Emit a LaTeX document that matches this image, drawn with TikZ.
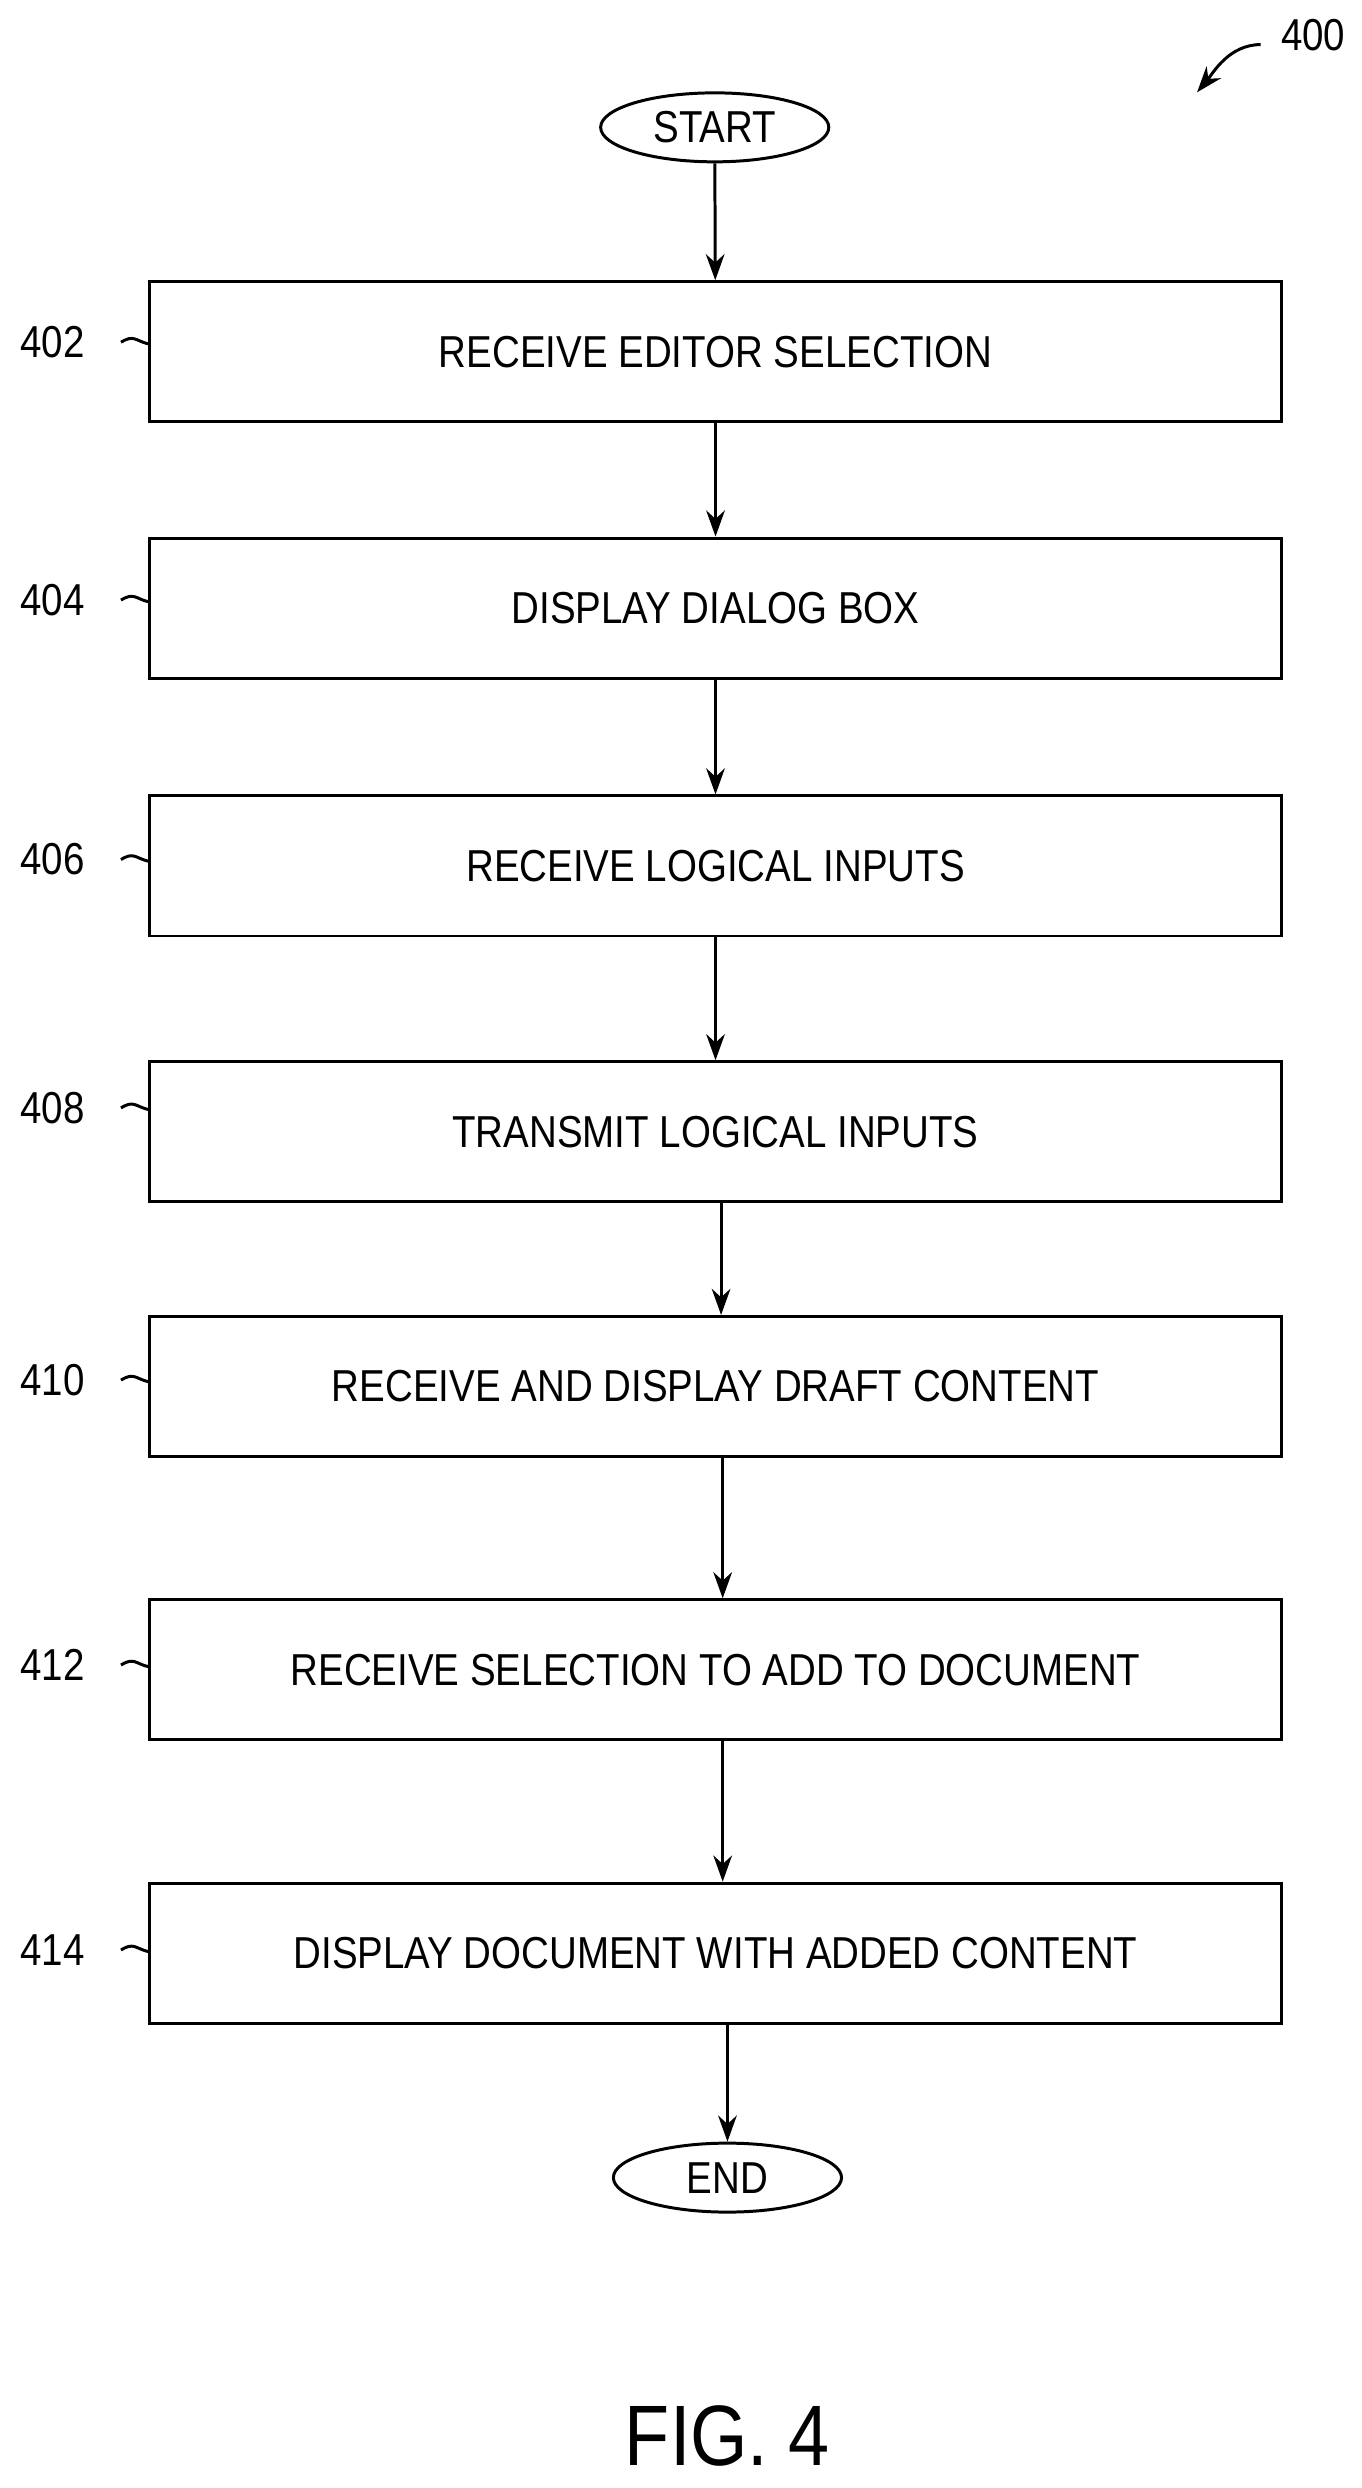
\documentclass[tikz,border=0pt]{standalone}
\usepackage{fontspec}
\setmainfont{Liberation Sans}[FakeStretch=0.86]
\usetikzlibrary{shapes,arrows,arrows.meta,positioning,calc}

\begin{document}
\begin{tikzpicture}[x=0.03cm,y=-0.03cm,line width=1.6pt,
    box/.style={draw,minimum width=21.33cm,minimum height=2.64cm,inner sep=0pt,font=\fontsize{24}{27}\selectfont},
    term/.style={ellipse,draw,minimum width=4.3cm,minimum height=1.3cm,inner sep=0pt,font=\fontsize{24}{27}\selectfont},
    flow/.style={-{Stealth[length=14pt,width=10pt]}},
    ref/.style={font=\fontsize{24}{27}\selectfont}]
  \useasboundingbox (0,0) rectangle (855,1563);

  % Terminals
  \node[term] (start) at (449,80) {START};
  \node[term] (end) at (457,1368) {END};

  % Steps
  \node[box] (s402) at (449.5,221) {RECEIVE EDITOR SELECTION};
  \node[box] (s404) at (449.5,382) {DISPLAY DIALOG BOX};
  \node[box] (s406) at (449.5,544) {RECEIVE LOGICAL INPUTS};
  \node[box] (s408) at (449.5,711) {TRANSMIT LOGICAL INPUTS};
  \node[box] (s410) at (449.5,871) {RECEIVE AND DISPLAY DRAFT CONTENT};
  \node[box] (s412) at (449.5,1049) {RECEIVE SELECTION TO ADD TO DOCUMENT};
  \node[box] (s414) at (449.5,1227) {DISPLAY DOCUMENT WITH ADDED CONTENT};

  % Flow
  \draw[flow] (start) -- (s402);
  \draw[flow] (s402) -- (s404);
  \draw[flow] (s404) -- (s406);
  \draw[flow] (s406) -- (s408);
  \draw[flow] (s408.south -| 453,0) -- (s410.north -| 453,0);
  \draw[flow] (s410.south -| 454,0) -- (s412.north -| 454,0);
  \draw[flow] (s412.south -| 454,0) -- (s414.north -| 454,0);
  \draw[flow] (s414.south -| end) -- (end);

  % Reference numerals
  \foreach \n/\y in {402/215,404/377,406/540,408/696,410/867,412/1046,414/1225} {
    \node[ref] (l\n) at (33,\y) {\n};
    \draw (l\n.east) ++(18,0) .. controls +(8,-5) and +(-8,-2) .. (s\n.west |- 0,\y+1);
  }

  % Figure number
  \node[ref] (f400) at (825,22) {400};
  \coordinate (a400) at (752,58);
  \draw[flow] (f400.west) ++(-8,6) .. controls +(-20,0) and +(10,-12) .. (a400);

  \node[font=\fontsize{46}{50}\selectfont] (fig) at (457,1530) {FIG. 4};
\end{tikzpicture}
\end{document}
